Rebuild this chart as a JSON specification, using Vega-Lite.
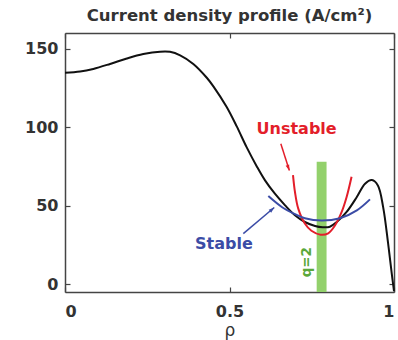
{
  "$schema": "https://vega.github.io/schema/vega-lite/v6.json",
  "width": 329,
  "height": 259,
  "autosize": {"type": "none"},
  "padding": {"left": 65, "top": 33, "right": 4, "bottom": 48},
  "background": "white",
  "view": {"stroke": null},
  "title": {"text": "Current density profile (A/cm²)", "font": "DejaVu Sans", "fontSize": 16.5, "fontWeight": "bold", "color": "#333333", "offset": 8, "anchor": "middle"},
  "config": {
    "axis": {"labelFont": "DejaVu Sans", "labelFontSize": 16, "labelFontWeight": "bold", "labelColor": "#333333", "domainColor": "#444444", "domainWidth": 1.5, "tickColor": "#444444", "tickSize": -5, "tickWidth": 1.2, "grid": false}
  },
  "datasets": {
    "black": [
      {"rho": 0.0, "v": 134.6}, {"rho": 0.046, "v": 135.4}, {"rho": 0.086, "v": 137.1}, {"rho": 0.137, "v": 140.3},
      {"rho": 0.188, "v": 143.8}, {"rho": 0.238, "v": 146.6}, {"rho": 0.289, "v": 148.1}, {"rho": 0.319, "v": 148.0},
      {"rho": 0.35, "v": 145.8}, {"rho": 0.39, "v": 140.3}, {"rho": 0.431, "v": 131.5}, {"rho": 0.451, "v": 126.0},
      {"rho": 0.491, "v": 113.0}, {"rho": 0.522, "v": 100.5}, {"rho": 0.552, "v": 87.3}, {"rho": 0.583, "v": 75.0},
      {"rho": 0.608, "v": 66.1}, {"rho": 0.638, "v": 57.6}, {"rho": 0.669, "v": 50.2}, {"rho": 0.699, "v": 43.9},
      {"rho": 0.729, "v": 39.6}, {"rho": 0.76, "v": 37.1}, {"rho": 0.783, "v": 36.3}, {"rho": 0.805, "v": 36.6},
      {"rho": 0.826, "v": 39.6}, {"rho": 0.856, "v": 46.0}, {"rho": 0.887, "v": 55.5}, {"rho": 0.912, "v": 64.0},
      {"rho": 0.933, "v": 66.3}, {"rho": 0.951, "v": 62.9}, {"rho": 0.967, "v": 49.1}, {"rho": 0.982, "v": 26.1},
      {"rho": 0.993, "v": 7.0}, {"rho": 1.0, "v": -4.4}
    ],
    "red": [
      {"rho": 0.693, "v": 69.5}, {"rho": 0.699, "v": 58.7}, {"rho": 0.709, "v": 48.1}, {"rho": 0.729, "v": 38.6},
      {"rho": 0.749, "v": 34.0}, {"rho": 0.777, "v": 31.5}, {"rho": 0.8, "v": 32.4}, {"rho": 0.821, "v": 37.5},
      {"rho": 0.841, "v": 46.0}, {"rho": 0.856, "v": 55.5}, {"rho": 0.871, "v": 68.4}
    ],
    "blue": [
      {"rho": 0.618, "v": 56.1}, {"rho": 0.66, "v": 49.0}, {"rho": 0.699, "v": 44.6}, {"rho": 0.729, "v": 42.0},
      {"rho": 0.78, "v": 40.5}, {"rho": 0.836, "v": 42.0}, {"rho": 0.887, "v": 47.0}, {"rho": 0.927, "v": 54.0}
    ],
    "bar": [{"rho0": 0.765, "rho1": 0.795, "v0": -5, "v1": 78}],
    "redArrow": [{"rho0": 0.656, "v0": 89.4, "rho1": 0.682, "v1": 72.4}],
    "blueArrow": [{"rho0": 0.542, "v0": 32.2, "rho1": 0.636, "v1": 48.8}]
  },
  "layer": [
    {
      "data": {"name": "bar"},
      "mark": {"type": "rect", "color": "#93d16c"},
      "encoding": {
        "x": {"field": "rho0", "type": "quantitative", "scale": {"domain": [0, 1], "nice": false, "zero": false},
              "axis": {"orient": "bottom", "values": [0, 0.5, 1], "format": "~g", "labelPadding": 16, "title": "ρ", "titleFont": "DejaVu Sans", "titleFontSize": 17, "titleFontWeight": "normal", "titleColor": "#333333", "titlePadding": 3}},
        "x2": {"field": "rho1"},
        "y": {"field": "v0", "type": "quantitative", "scale": {"domain": [-5, 160], "nice": false, "zero": false},
              "axis": {"orient": "left", "values": [0, 50, 100, 150], "labelPadding": 12, "title": null}},
        "y2": {"field": "v1"}
      }
    },
    {
      "data": {"name": "black"},
      "mark": {"type": "line", "color": "#111111", "strokeWidth": 2, "interpolate": "catmull-rom"},
      "encoding": {
        "x": {"field": "rho", "type": "quantitative", "axis": {"orient": "top", "values": [0, 0.5, 1], "labels": false, "title": null}},
        "y": {"field": "v", "type": "quantitative", "axis": {"orient": "right", "values": [0, 50, 100, 150], "labels": false, "title": null}}
      }
    },
    {
      "data": {"name": "red"},
      "mark": {"type": "line", "color": "#e31e2a", "strokeWidth": 2, "interpolate": "catmull-rom"},
      "encoding": {
        "x": {"field": "rho", "type": "quantitative", "axis": null},
        "y": {"field": "v", "type": "quantitative", "axis": null}
      }
    },
    {
      "data": {"name": "blue"},
      "mark": {"type": "line", "color": "#3b4ca6", "strokeWidth": 2, "interpolate": "catmull-rom"},
      "encoding": {
        "x": {"field": "rho", "type": "quantitative", "axis": null},
        "y": {"field": "v", "type": "quantitative", "axis": null}
      }
    },
    {
      "data": {"name": "redArrow"},
      "mark": {"type": "rule", "color": "#e31e2a", "strokeWidth": 1.5},
      "encoding": {
        "x": {"field": "rho0", "type": "quantitative", "axis": null},
        "y": {"field": "v0", "type": "quantitative", "axis": null},
        "x2": {"field": "rho1"}, "y2": {"field": "v1"}
      }
    },
    {
      "data": {"name": "redArrow"},
      "mark": {"type": "point", "shape": "M0,0L-0.6,1.8L0.6,1.8Z", "filled": true, "color": "#e31e2a", "opacity": 1, "size": 40, "angle": 159.5},
      "encoding": {
        "x": {"field": "rho1", "type": "quantitative", "axis": null},
        "y": {"field": "v1", "type": "quantitative", "axis": null}
      }
    },
    {
      "data": {"name": "blueArrow"},
      "mark": {"type": "rule", "color": "#3b4ca6", "strokeWidth": 1.5},
      "encoding": {
        "x": {"field": "rho0", "type": "quantitative", "axis": null},
        "y": {"field": "v0", "type": "quantitative", "axis": null},
        "x2": {"field": "rho1"}, "y2": {"field": "v1"}
      }
    },
    {
      "data": {"name": "blueArrow"},
      "mark": {"type": "point", "shape": "M0,0L-0.6,1.8L0.6,1.8Z", "filled": true, "color": "#3b4ca6", "opacity": 1, "size": 40, "angle": 49},
      "encoding": {
        "x": {"field": "rho1", "type": "quantitative", "axis": null},
        "y": {"field": "v1", "type": "quantitative", "axis": null}
      }
    },
    {
      "data": {"values": [{"rho": 0.704, "v": 98.7, "label": "Unstable"}]},
      "mark": {"type": "text", "font": "DejaVu Sans", "fontSize": 16, "fontWeight": "bold", "color": "#e31e2a", "align": "center", "baseline": "middle"},
      "encoding": {
        "x": {"field": "rho", "type": "quantitative", "axis": null},
        "y": {"field": "v", "type": "quantitative", "axis": null},
        "text": {"field": "label"}
      }
    },
    {
      "data": {"values": [{"rho": 0.483, "v": 25.3, "label": "Stable"}]},
      "mark": {"type": "text", "font": "DejaVu Sans", "fontSize": 16, "fontWeight": "bold", "color": "#3b4ca6", "align": "center", "baseline": "middle"},
      "encoding": {
        "x": {"field": "rho", "type": "quantitative", "axis": null},
        "y": {"field": "v", "type": "quantitative", "axis": null},
        "text": {"field": "label"}
      }
    },
    {
      "data": {"values": [{"rho": 0.735, "v": 14, "label": "q=2"}]},
      "mark": {"type": "text", "font": "DejaVu Sans", "fontSize": 13.5, "fontWeight": "bold", "color": "#5aa83a", "align": "center", "baseline": "middle", "angle": 270},
      "encoding": {
        "x": {"field": "rho", "type": "quantitative", "axis": null},
        "y": {"field": "v", "type": "quantitative", "axis": null},
        "text": {"field": "label"}
      }
    }
  ],
  "resolve": {"axis": {"x": "independent", "y": "independent"}}
}
